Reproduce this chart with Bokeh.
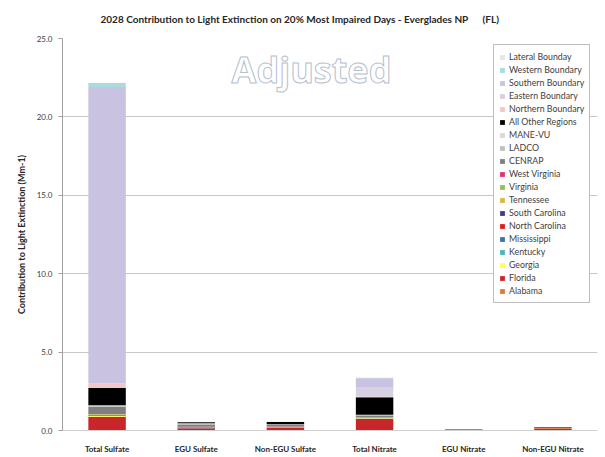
from bokeh.plotting import figure
from bokeh.models import (ColumnDataSource, Range1d, FactorRange, Legend, LegendItem,
                          Label, Title, NumeralTickFormatter, FixedTicker)
from bokeh.embed import file_html
from bokeh.resources import INLINE

categories = ["Total Sulfate", "EGU Sulfate", "Non-EGU Sulfate",
              "Total Nitrate", "EGU Nitrate", "Non-EGU Nitrate"]

# contributions (Mm-1), bottom of stack first
alabama        = [0.03, 0.01, 0.01, 0.03, 0.00, 0.01]
florida        = [0.85, 0.13, 0.16, 0.72, 0.02, 0.14]
georgia        = [0.04, 0.01, 0.02, 0.03, 0.00, 0.01]
kentucky       = [0.02, 0.01, 0.01, 0.01, 0.00, 0.00]
mississippi    = [0.02, 0.01, 0.01, 0.01, 0.00, 0.00]
north_carolina = [0.03, 0.01, 0.01, 0.01, 0.00, 0.00]
south_carolina = [0.02, 0.01, 0.01, 0.01, 0.00, 0.00]
tennessee      = [0.03, 0.01, 0.01, 0.01, 0.00, 0.00]
virginia       = [0.01, 0.00, 0.00, 0.01, 0.00, 0.00]
west_virginia  = [0.01, 0.04, 0.01, 0.00, 0.00, 0.00]
cenrap         = [0.45, 0.14, 0.10, 0.12, 0.04, 0.02]
ladco          = [0.08, 0.06, 0.04, 0.03, 0.01, 0.01]
mane_vu        = [0.02, 0.02, 0.01, 0.01, 0.00, 0.00]
all_other      = [1.10, 0.06, 0.14, 1.12, 0.01, 0.04]
northern_bnd   = [0.25, 0.00, 0.02, 0.05, 0.00, 0.00]
eastern_bnd    = [0.05, 0.00, 0.00, 0.60, 0.00, 0.00]
southern_bnd   = [18.90, 0.00, 0.00, 0.57, 0.00, 0.00]
western_bnd    = [0.25, 0.00, 0.00, 0.02, 0.00, 0.00]
lateral_bnd    = [0.02, 0.00, 0.00, 0.01, 0.00, 0.00]

series_names = ["Alabama", "Florida", "Georgia", "Kentucky", "Mississippi",
                "North Carolina", "South Carolina", "Tennessee", "Virginia",
                "West Virginia", "CENRAP", "LADCO", "MANE-VU", "All Other Regions",
                "Northern Boundary", "Eastern Boundary", "Southern Boundary",
                "Western Boundary", "Lateral Bounday"]
series_values = [alabama, florida, georgia, kentucky, mississippi, north_carolina,
                 south_carolina, tennessee, virginia, west_virginia, cenrap, ladco,
                 mane_vu, all_other, northern_bnd, eastern_bnd, southern_bnd,
                 western_bnd, lateral_bnd]
series_colors = ["#E07A35", "#C8262B", "#FFFF4D", "#4BB8B8", "#3F6FB5",
                 "#E01B1B", "#3B3B8C", "#D8B845", "#9BBB59", "#E0336E",
                 "#7F7F7F", "#BFBFBF", "#D9D9D9", "#000000",
                 "#F2C7CB", "#D6D0E2", "#C9C2E1", "#A9DCDC", "#E6E6E6"]

y_ticks = [0, 5, 10, 15, 20, 25]

data = {"cat": categories}
for n, v in zip(series_names, series_values):
    data[n] = v
src = ColumnDataSource(data)

FONT = "Lato"

p = figure(x_range=FactorRange(*categories), y_range=Range1d(0, 25),
           width=602, height=456, output_backend="svg", toolbar_location=None,
           min_border_left=62, min_border_right=5, min_border_top=38,
           min_border_bottom=24)
p.title = None

renderers = p.vbar_stack(series_names, x="cat", width=0.42, color=series_colors,
                         line_color=None, source=src)

items = [LegendItem(label=n, renderers=[r]) for n, r in zip(series_names, renderers)]
items.reverse()
legend = Legend(items=items, location=(431, 127), orientation="vertical",
                label_text_font=FONT, label_text_font_size="8.8px",
                label_text_color="#404040", label_height=13, glyph_height=6,
                glyph_width=6, spacing=0, padding=5, margin=0,
                label_standoff=4, border_line_color="#808080",
                background_fill_color="white", background_fill_alpha=1.0)
p.add_layout(legend, "center")

spacer = Title(text="\u00a0", text_font_size="7px", standoff=0)
p.add_layout(spacer, "above")
main_title = Title(text="2028 Contribution to Light Extinction on 20% Most Impaired Days - Everglades NP" + "\u00a0" * 6 + "(FL)",
                   align="left", offset=38, text_font=FONT, text_font_size="10px",
                   text_font_style="bold", text_color="#262626")
p.add_layout(main_title, "above")

p.yaxis.ticker = FixedTicker(ticks=y_ticks)
p.yaxis.formatter = NumeralTickFormatter(format="0.0")
p.yaxis.axis_label = "Contribution to Light Extinction (Mm-1)"
p.yaxis.axis_label_text_font = FONT
p.yaxis.axis_label_text_font_size = "9px"
p.yaxis.axis_label_text_font_style = "bold"
p.yaxis.axis_label_text_color = "#262626"
p.yaxis.axis_label_standoff = 7
p.yaxis.major_label_text_font = FONT
p.yaxis.major_label_text_font_size = "8px"
p.yaxis.major_label_text_color = "#404040"
p.yaxis.axis_line_color = "#A0A0A0"
p.yaxis.major_tick_line_color = "#A0A0A0"
p.yaxis.major_tick_out = 4
p.yaxis.major_tick_in = 0
p.yaxis.minor_tick_line_color = None
p.yaxis.major_label_standoff = 6

p.xaxis.major_label_text_font = FONT
p.xaxis.major_label_text_font_size = "8px"
p.xaxis.major_label_text_font_style = "bold"
p.xaxis.major_label_text_color = "#262626"
p.xaxis.axis_line_color = "#D0D0D0"
p.xaxis.major_tick_line_color = None
p.xaxis.major_label_standoff = 7

p.xgrid.grid_line_color = None
p.ygrid.grid_line_color = "#C8C8C8"
p.ygrid.ticker = FixedTicker(ticks=y_ticks)
p.outline_line_color = None
p.background_fill_color = "white"
p.border_fill_color = "white"

wm = Label(x=249, y=361, x_units="screen", y_units="screen", text="Adjusted",
           text_font="Open Sans", text_font_size="36px", text_font_style="bold",
           text_align="center", text_baseline="middle", text_color="white",
           text_outline_color="#B4C0CE")
p.add_layout(wm)

open("out.html", "w").write(file_html(p, INLINE))
